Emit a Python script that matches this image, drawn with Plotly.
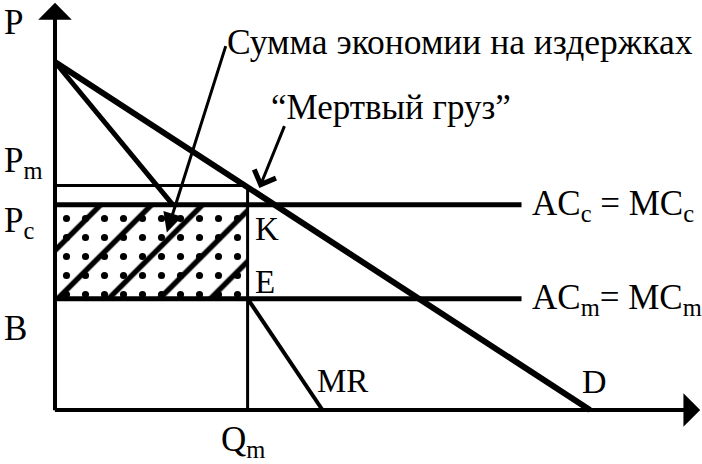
import plotly.graph_objects as go

# ---- economic values (price P, quantity Q) ----
demand_q = [0.0, 10.0]          # demand D: quantity at the two ends
demand_p = [10.0, 0.0]          # demand D: price at the two ends
p_monopoly = 6.45               # Pm
p_competitive = 5.9             # Pc  (AC_c = MC_c)
ac_monopoly = 3.2               # B   (AC_m = MC_m)
q_monopoly = 3.6                # Qm
mr_q_intercept = 5.0            # MR meets the Q axis
cost_line_end_q = 8.72          # where the cost lines stop
axis_q_max = 12.06
axis_p_max = 11.7
upper_ray_q = 2.2               # ray from the demand intercept down to Pc
savings_arrow_tail = (3.2, 10.5)
savings_arrow_tip = (2.09, 5.1)
deadweight_arrow_tail = (4.3, 8.2)
deadweight_arrow_tip = (3.82, 6.38)

# ---- figure geometry ----
W, H = 702, 464
X0_PX, Y0_PX = 55, 410          # pixel location of the origin
PX_PER_Q, PX_PER_P = 53.5, 34.8

x_range = [-X0_PX / PX_PER_Q, (W - X0_PX) / PX_PER_Q]
y_range = [-(H - Y0_PX) / PX_PER_P, Y0_PX / PX_PER_P]

SERIF = "Liberation Serif, Times New Roman, serif"
BLACK = "black"

fig = go.Figure()


def seg(xs, ys, width):
    fig.add_trace(go.Scatter(x=xs, y=ys, mode="lines",
                             line=dict(color=BLACK, width=width),
                             hoverinfo="skip", showlegend=False))


# hatched + dotted rectangle (cost savings)
rect_x = [0, q_monopoly, q_monopoly, 0, 0]
rect_y = [ac_monopoly, ac_monopoly, p_competitive, p_competitive, ac_monopoly]
fig.add_trace(go.Scatter(x=rect_x, y=rect_y, mode="lines", fill="toself",
                         line=dict(width=0), fillcolor="white",
                         fillpattern=dict(shape="/", size=36, solidity=0.15,
                                          fgcolor=BLACK, fgopacity=1,
                                          bgcolor="white"),
                         hoverinfo="skip", showlegend=False))
fig.add_trace(go.Scatter(x=rect_x, y=rect_y, mode="lines", fill="toself",
                         line=dict(width=0), fillcolor="rgba(0,0,0,0)",
                         fillpattern=dict(shape=".", size=19, solidity=0.11,
                                          fgcolor=BLACK, fgopacity=1,
                                          bgcolor="rgba(0,0,0,0)"),
                         hoverinfo="skip", showlegend=False))

# lines
seg(demand_q, demand_p, 6)                                           # D
seg([demand_q[0], upper_ray_q], [demand_p[0], p_competitive], 5)     # upper ray
seg([0, demand_q[1] - p_monopoly], [p_monopoly, p_monopoly], 3)      # Pm
seg([q_monopoly, q_monopoly], [0, p_monopoly], 3)                    # Qm vertical
seg([0, cost_line_end_q], [p_competitive, p_competitive], 5)         # AC_c = MC_c
seg([0, cost_line_end_q], [ac_monopoly, ac_monopoly], 5)             # AC_m = MC_m
seg([q_monopoly, mr_q_intercept], [ac_monopoly, 0], 4)               # MR

annotations = []

# axes with arrow heads
annotations.append(dict(x=0, y=axis_p_max, ax=0, ay=-0.05, xref="x", yref="y",
                        axref="x", ayref="y", text="", showarrow=True,
                        arrowhead=1, arrowwidth=4, arrowsize=1.4,
                        arrowcolor=BLACK, standoff=0))
annotations.append(dict(x=axis_q_max, y=0, ax=-0.03, ay=0, xref="x", yref="y",
                        axref="x", ayref="y", text="", showarrow=True,
                        arrowhead=1, arrowwidth=4, arrowsize=1.4,
                        arrowcolor=BLACK, standoff=0))

# pointer arrows
annotations.append(dict(x=savings_arrow_tip[0], y=savings_arrow_tip[1],
                        ax=savings_arrow_tail[0], ay=savings_arrow_tail[1],
                        xref="x", yref="y", axref="x", ayref="y", text="",
                        showarrow=True, arrowhead=2, arrowwidth=3, arrowsize=1.3,
                        arrowcolor=BLACK, standoff=0))
annotations.append(dict(x=deadweight_arrow_tip[0], y=deadweight_arrow_tip[1],
                        ax=deadweight_arrow_tail[0], ay=deadweight_arrow_tail[1],
                        xref="x", yref="y", axref="x", ayref="y", text="",
                        showarrow=True, arrowhead=4, arrowwidth=3, arrowsize=1.5,
                        arrowcolor=BLACK, standoff=0))


def label(text, px, py, size=35, xanchor="left", yanchor="middle"):
    annotations.append(dict(x=px / W, y=1 - py / H, xref="paper", yref="paper",
                            text=text, showarrow=False, xanchor=xanchor,
                            yanchor=yanchor,
                            font=dict(family=SERIF, size=size, color=BLACK)))


label("P", 2, 22)
label("P<sub>m</sub>", 2, 163)
label("P<sub>c</sub>", 2, 222)
label("B", 2, 328)
label("K", 253, 229, size=33)
label("E", 253, 282, size=33)
label("MR", 315, 381, size=33)
label("D", 580, 381, size=34)
label("Q<sub>m</sub>", 219, 441)
label("AC<sub>c</sub> = MC<sub>c</sub>", 530, 205)
label("AC<sub>m</sub>= MC<sub>m</sub>", 530, 299)
label("Сумма экономии на издержках", 225, 42, size=35.5)
label("“Мертвый груз”", 269, 108, size=35)

fig.update_layout(
    width=W, height=H,
    margin=dict(l=0, r=0, t=0, b=0),
    paper_bgcolor="white", plot_bgcolor="white",
    xaxis=dict(range=x_range, visible=False, fixedrange=True),
    yaxis=dict(range=y_range, visible=False, fixedrange=True),
    showlegend=False,
    annotations=annotations,
)

fig.write_html("out.html", config={"displayModeBar": False},
               post_script="document.body.style.margin='0';")
